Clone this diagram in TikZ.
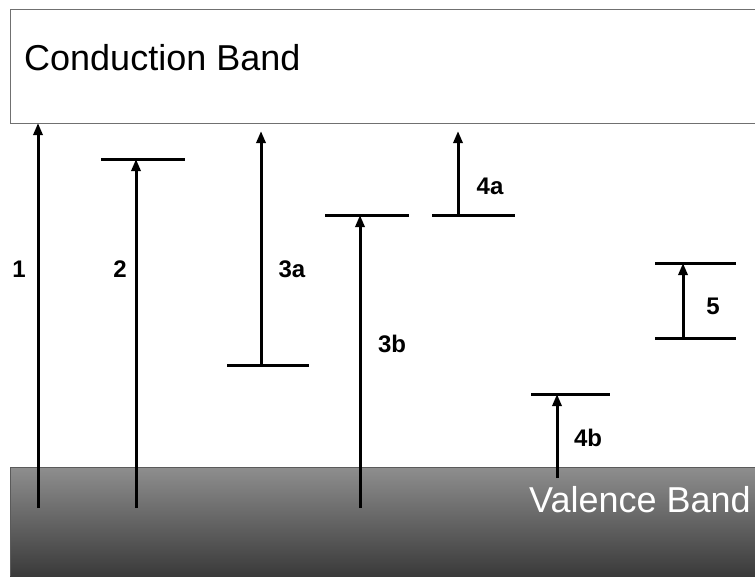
\documentclass[tikz,border=0pt]{standalone}
\usepackage{fontspec}
\setmainfont{Liberation Sans}
\usetikzlibrary{arrows.meta}
\definecolor{boxline}{RGB}{112,112,112}
\definecolor{vtop}{RGB}{142,142,142}
\definecolor{vbot}{RGB}{58,58,58}
\begin{document}
\begin{tikzpicture}[x=1pt,y=-1pt,
  trans/.style={line width=3pt,-{Triangle[length=12pt,width=9pt]}},
  level/.style={line width=3pt},
  lab/.style={font=\fontsize{24}{24}\selectfont\bfseries,anchor=base,inner sep=0pt},
  bandtext/.style={font=\fontsize{36}{36}\selectfont,anchor=base west,inner sep=0pt}]
\useasboundingbox (0,0) rectangle (755,576);
% bands
\node[draw=boxline,line width=1pt,fill=white,minimum width=750pt,minimum height=114pt,anchor=north west,inner sep=0pt] (cb) at (10,9) {};
\shade[top color=vtop,bottom color=vbot] (10,467) rectangle (760,576);
\draw[boxline!80!black,line width=1pt] (10,576) -- (10,467) -- (760,467);
\coordinate (vb) at (10,467);
\node[bandtext] (cbt) at (24,70) {Conduction Band};
\node[bandtext,text=white] (vbt) at (529,512) {Valence Band};
% levels
\coordinate (l2a) at (101,159); \coordinate (l2b) at (185,159);
\coordinate (l3aa) at (227,365); \coordinate (l3ab) at (309,365);
\coordinate (l3ba) at (325,215); \coordinate (l3bb) at (409,215);
\coordinate (l4aa) at (432,215); \coordinate (l4ab) at (515,215);
\coordinate (l4ba) at (531,394); \coordinate (l4bb) at (610,394);
\coordinate (l5ta) at (655,263); \coordinate (l5tb) at (736,263);
\coordinate (l5ba) at (655,338); \coordinate (l5bb) at (736,338);
\draw[level] (l2a) -- (l2b);
\draw[level] (l3aa) -- (l3ab);
\draw[level] (l3ba) -- (l3bb);
\draw[level] (l4aa) -- (l4ab);
\draw[level] (l4ba) -- (l4bb);
\draw[level] (l5ta) -- (l5tb);
\draw[level] (l5ba) -- (l5bb);
% arrow endpoints
\coordinate (s1) at (38,508); \coordinate (e1) at (38,123);
\coordinate (s2) at (136,508); \coordinate (e2) at (136,159);
\coordinate (s3a) at (261,365); \coordinate (e3a) at (261,131);
\coordinate (s3b) at (360,508); \coordinate (e3b) at (360,215);
\coordinate (s4a) at (458,215); \coordinate (e4a) at (458,131);
\coordinate (s4b) at (557,478); \coordinate (e4b) at (557,394);
\coordinate (s5) at (683,338); \coordinate (e5) at (683,263);
\draw[trans] (s1) -- (e1);
\draw[trans] (s2) -- (e2);
\draw[trans] (s3a) -- (e3a);
\draw[trans] (s3b) -- (e3b);
\draw[trans] (s4a) -- (e4a);
\draw[trans] (s4b) -- (e4b);
\draw[trans] (s5) -- (e5);
% labels
\node[lab] (t1) at (19,277) {1};
\node[lab] (t2) at (120,277) {2};
\node[lab] (t3a) at (292,277) {3a};
\node[lab] (t3b) at (392,352) {3b};
\node[lab] (t4a) at (490,194) {4a};
\node[lab] (t4b) at (588,446) {4b};
\node[lab] (t5) at (713,314) {5};
\end{tikzpicture}
\end{document}
